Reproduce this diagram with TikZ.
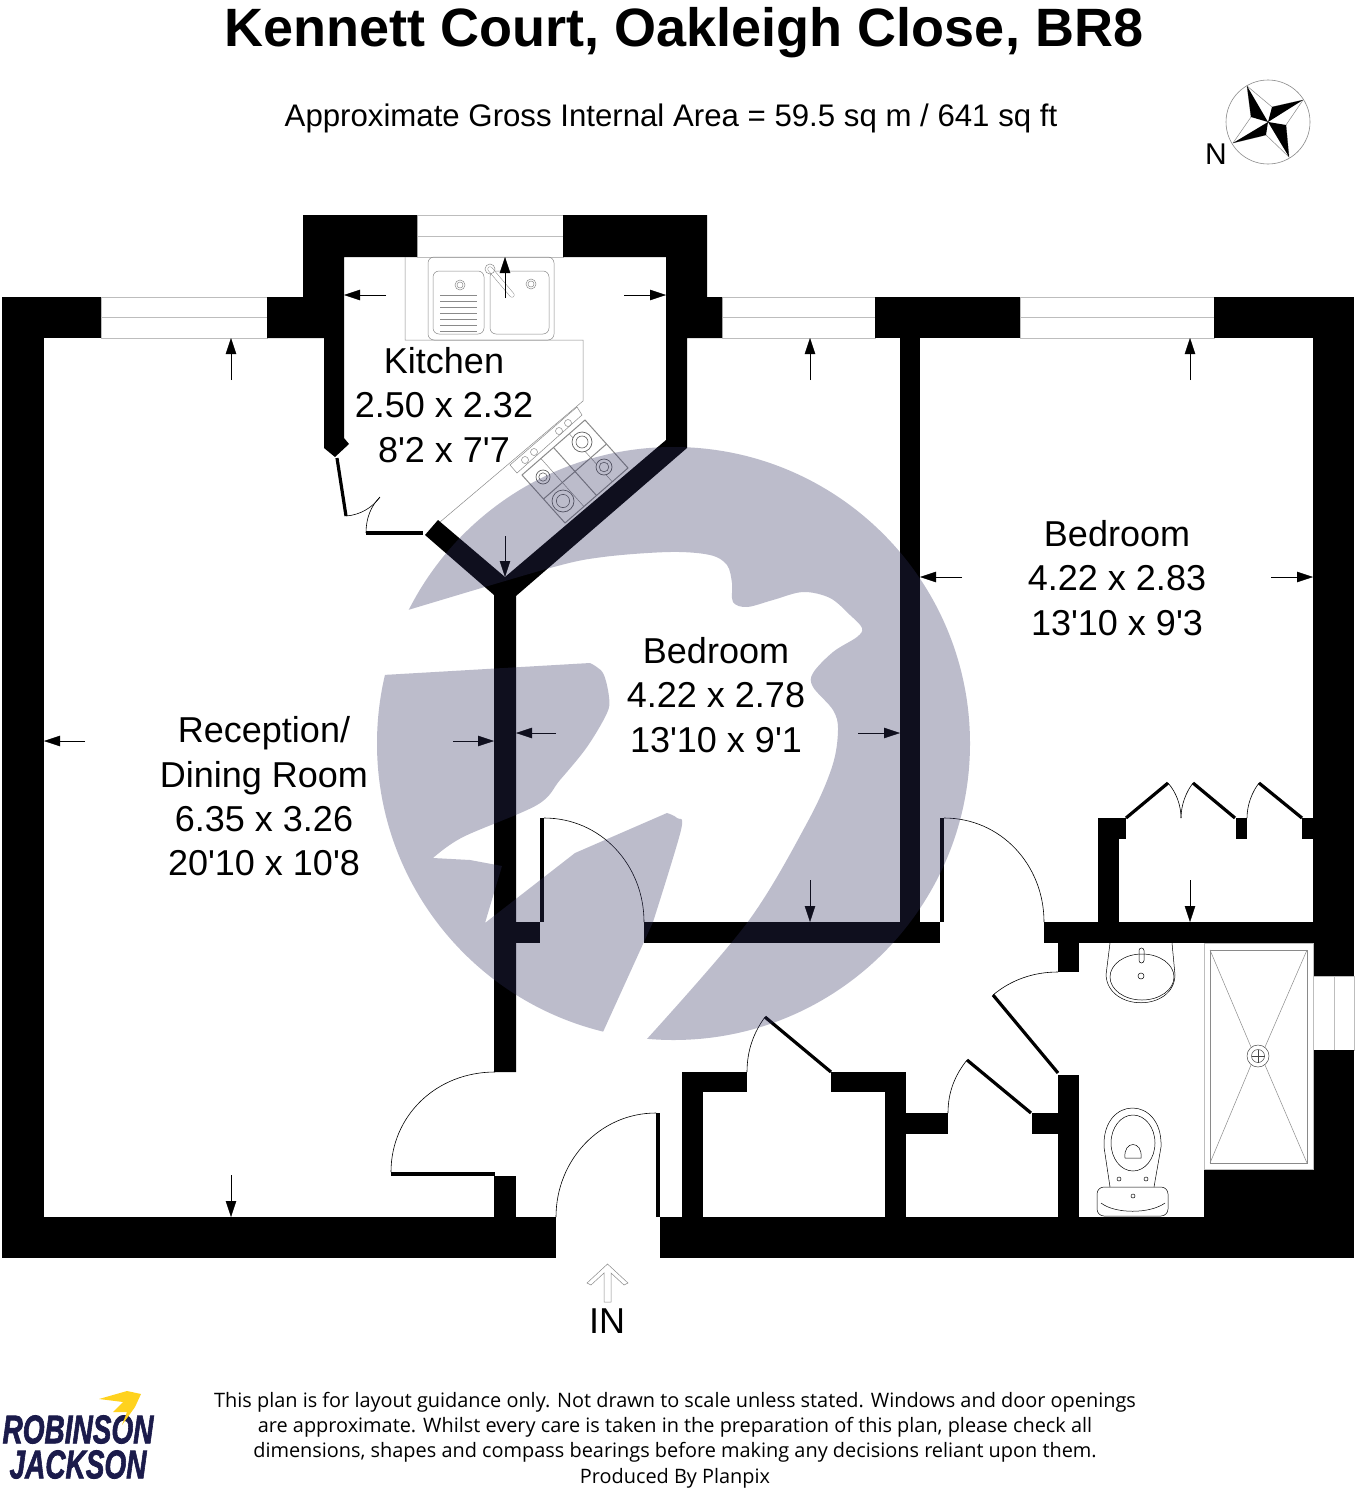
\documentclass[tikz,border=0pt]{standalone}
\usepackage{fontspec}
\usetikzlibrary{arrows.meta,calc}
\newfontfamily\planfont{Liberation Sans}
\newfontfamily\notefont{Open Sans}
\newfontfamily\logofont[FakeBold=2]{Liberation Sans Bold Italic}
\definecolor{fixgrey}{HTML}{8A8A8A}
\definecolor{framegrey}{HTML}{BDBDBD}
\definecolor{swallownavy}{HTML}{1B1B4B}
\definecolor{swallowyellow}{HTML}{FFD21E}
\definecolor{markcolor}{rgb}{.19,.19,.375}
\tikzset{
  roomlabel/.style={font=\planfont\fontsize{36}{44.4}\selectfont,align=center,inner sep=0pt},
  logolabel/.style={font=\logofont\fontsize{40}{35}\selectfont,text=swallownavy,xscale=.7,align=center,inner sep=0pt},
  dimline/.style={line width=.4pt,-{Triangle[length=16pt,width=10.5pt]}},
  swing/.style={line width=.6pt},
  leaf/.style={line width=3.2pt},
  frameline/.style={framegrey,line width=.9pt},
  fixture/.style={line width=.5pt},
  hobline/.style={fixgrey,line width=.7pt},
}
\begin{document}
\begin{tikzpicture}[x=1pt,y=-1pt]
      \useasboundingbox (0,0) rectangle (1361,1488);
      \fill[white] (0,0) rectangle (1361,1488);
      % Titles
      \node[font=\planfont\bfseries\fontsize{54}{58}\selectfont,inner sep=0pt] (title) at (684,33) {Kennett Court, Oakleigh Close, BR8};
      \node[font=\planfont\fontsize{31.2}{35}\selectfont,inner sep=0pt] (area) at (671,118) {Approximate Gross Internal Area = 59.5 sq m / 641 sq ft};
      % Compass
      \draw[fixgrey,line width=.6pt] (1268,122) circle (42);
      \draw[fixgrey,line width=.5pt] (1247,86) -- (1272,107) -- (1303,100) -- (1286,125) -- (1289,157) -- (1266,135) -- (1233,143) -- (1251,117) -- cycle;
      \fill (1247,86) -- (1251,117) -- (1268,122) -- cycle;
      \fill (1303,100) -- (1272,107) -- (1268,122) -- cycle;
      \fill (1289,157) -- (1286,125) -- (1268,122) -- cycle;
      \fill (1233,143) -- (1266,135) -- (1268,122) -- cycle;
      \node[font=\planfont\fontsize{30}{34}\selectfont,inner sep=0pt] (north) at (1216,154) {N};
      % Windows
      \foreach \xa/\xb in {101/267,722/875,1020/1214}{
        \draw[frameline] (\xa,297) rectangle (\xb,338);
        \draw[frameline] (\xa,317) -- (\xb,317);
      }
      \draw[frameline] (417,215) rectangle (563,257);
      \draw[frameline] (417,236) -- (563,236);
      \draw[frameline] (1313,976) rectangle (1354,1050);
      \draw[frameline] (1334,976) -- (1334,1050);
      % Walls
      \fill (303,215) -- (417,215) -- (417,257) -- (344,257) -- (344,438) -- (349,444) -- (335,457) -- (324,448) -- (324,338) -- (267,338) -- (267,297) -- (303,297) -- cycle;
      \fill (563,215) -- (707,215) -- (707,297) -- (722,297) -- (722,338) -- (687,338) -- (687,448) -- (516,596) -- (516,1072) -- (494,1072) -- (494,595) -- (425,535) -- (438,520) -- (505,577) -- (666,440) -- (666,257) -- (563,257) -- cycle;
      \foreach \xa/\ya/\xb/\yb in {2/297/44/1258,2/297/101/338,875/297/1020/338,900/338/920/943,1214/297/1354/338,
        1313/297/1354/976,1313/1050/1354/1258,2/1217/556/1258,660/1217/1354/1258,494/1176/516/1217,
        516/922/540/943,644/922/940/943,1044/922/1313/943,1058/943/1079/972,1058/1075/1079/1217,
        906/1113/948/1134,1032/1113/1058/1134,885/1072/906/1217,682/1072/703/1217,682/1072/747/1092,831/1072/906/1092,
        1204/1169/1313/1217,1098/818/1119/922,1098/818/1126/839,1236/818/1247/839,1302/818/1313/839,
        540/818/544/922,940/818/944/922,656/1113/660/1217,391/1172/495/1176}{
        \fill (\xa,\ya) rectangle (\xb,\yb);
      }
      % Door leaves
      \draw[leaf] (337,458) -- (346,516);
      \draw[leaf] (366,533) -- (423,533);
      \draw[leaf] (993,995) -- (1058,1073);
      \draw[leaf] (967,1060) -- (1031,1113);
      \draw[leaf] (765,1017) -- (831,1072);
      \draw[leaf] (1126,818) -- (1168,783);
      \draw[leaf] (1235,818) -- (1193,783);
      \draw[leaf] (1302,818) -- (1259,783);
      % Door swings
      \draw[swing] (544,818) .. controls (601,818) and (644,865) .. (644,922);
      \draw[swing] (944,818) .. controls (1001,818) and (1044,865) .. (1044,922);
      \draw[swing] (656,1113) .. controls (600,1113) and (556,1160) .. (556,1217);
      \draw[swing] (495,1072) .. controls (436,1072) and (391,1116) .. (391,1172);
      \draw[swing] (1058,972) .. controls (1033,972) and (1011,980) .. (993,995);
      \draw[swing] (948,1113) .. controls (948,1092) and (955,1075) .. (967,1060);
      \draw[swing] (747,1072) .. controls (747,1050) and (754,1032) .. (765,1017);
      \draw[swing] (1181,818) .. controls (1181,805) and (1176,792) .. (1168,783);
      \draw[swing] (1181,818) .. controls (1181,805) and (1186,792) .. (1193,783);
      \draw[swing] (1247,818) .. controls (1247,805) and (1252,792) .. (1259,783);
      \draw[swing] (346,516) .. controls (360,515) and (372,508) .. (380,497);
      \draw[swing] (366,533) .. controls (366,518) and (371,506) .. (380,497);
      % Kitchen units
      \draw[fixgrey,line width=.5pt] (405,257) -- (405,340) -- (583,340) -- (583,401) -- (440,522);
      \draw[fixgrey,fixture,rounded corners=6pt] (428,257) rectangle (554,340);
      \draw[fixgrey,fixture,rounded corners=6pt] (433,271) rectangle (484,334);
      \draw[fixgrey,fixture,rounded corners=6pt] (490,271) rectangle (549,334);
      \foreach \y in {295,301,307,313,319,325,331}{
        \draw[fixgrey,line width=.4pt] (440,\y) -- (477,\y);
      }
      \foreach \x/\y in {460/285,531/284}{
        \draw[fixgrey,fixture] (\x,\y) circle (5);
        \draw[fixgrey,fixture] (\x,\y) circle (3);
      }
      \draw[fixgrey,line width=5pt,line cap=round] (490,269) -- (512,295);
      \draw[white,line width=4pt,line cap=round] (490,269) -- (512,295);
      \draw[fixgrey,fixture] (490,269) circle (5);
      % Hob
      \coordinate (hoba) at (522,475);
      \coordinate (hobb) at (585,420);
      \coordinate (hobc) at (628,468);
      \coordinate (hobd) at (565,523);
      \draw[hobline,line width=1pt] (hoba) -- (hobb) -- (hobc) -- (hobd) -- cycle;
      \draw[hobline,line width=1pt] ($(hoba)!.5!(hobb)$) -- ($(hobd)!.5!(hobc)$);
      \draw[hobline,line width=1pt] ($(hoba)!.5!(hobd)$) -- ($(hobb)!.5!(hobc)$);
      \draw[hobline,line width=.5pt] ($(hoba)!.3!(hobb)$) -- ($(hobd)!.3!(hobc)$);
      \draw[hobline,line width=.5pt] ($(hoba)!.75!(hobb)$) -- ($(hobd)!.75!(hobc)$);
      \draw[fixgrey,line width=.5pt] (510,465) -- (577,407) -- (582,415) -- (517,473) -- cycle;
      \foreach \x/\y in {525/460,534/452,559/431,568/423}{
        \draw[fixgrey,line width=.5pt] (\x,\y) circle (3.5);
      }
      \foreach \x/\y/\r in {543/477/7,582/442/10,604/467/8,563/501/11}{
        \draw[draw=fixgrey!70!black,fill=white,line width=.7pt] (\x,\y) circle (\r);
        \draw[fixgrey!70!black,line width=.6pt] (\x,\y) circle (\r*.6);
      }
      % Shower
      \draw[frameline,line width=.7pt] (1204,943) rectangle (1313,1169);
      \draw[fixgrey,line width=1pt] (1210,950) rectangle (1307,1163);
      \draw[fixgrey,line width=.5pt] (1210,950) -- (1251,1047) (1307,950) -- (1265,1047) (1210,1163) -- (1251,1065) (1307,1163) -- (1265,1065);
      \draw[fixgrey!50!black,fixture] (1258,1056) circle (11);
      \draw[fixgrey!50!black,fixture] (1258,1056) circle (6.5);
      \draw[fixgrey!50!black,fixture] (1251.5,1056) -- (1264.5,1056) (1258,1049.5) -- (1258,1062.5);
      % Washbasin
      \draw[fixture] (1110,943) -- (1106,975) .. controls (1108,1012) and (1174,1012) .. (1175,975) -- (1172,943);
      \draw[fixture] (1142,977) ellipse (32 and 23);
      \draw[fixture,rounded corners=2.5pt] (1139,948) rectangle (1144,963);
      \draw[fixture] (1141,976) circle (3);
      % Toilet
      \draw[fixture] (1110,1187) -- (1104,1147) .. controls (1102,1095) and (1163,1095) .. (1161,1147) -- (1154,1187);
      \draw[fixture] (1133,1143) ellipse (22 and 28);
      \draw[fixture,rounded corners=7pt] (1097,1187) rectangle (1168,1216);
      \draw[fixture] (1125,1158) .. controls (1123,1140) and (1143,1140) .. (1141,1158) -- cycle;
      \foreach \x/\y in {1119/1179,1146/1179,1133/1196}{
        \draw[fixture] (\x,\y) circle (2);
      }
      \draw[fixture] (1101,1203) .. controls (1115,1214) and (1150,1214) .. (1165,1203);
      % Dimension arrows
      \foreach \xa/\ya/\xb/\yb in {85/741/44/741,231/380/231/338,231/1175/231/1217,453/741/494/741,
        556/733/516/733,858/733/900/733,810/380/810/338,810/880/810/922,
        962/577/920/577,1271/577/1313/577,1190/380/1190/338,1190/880/1190/922,
        386/295/344/295,624/295/666/295,505/298/505/257,505/536/505/577}{
        \draw[dimline] (\xa,\ya) -- (\xb,\yb);
      }
      % Room labels
      \node[roomlabel] (kitchen) at (444,405) {Kitchen\\2.50 x 2.32\\8'2 x 7'7};
      \node[roomlabel] (bedroommid) at (716,695) {Bedroom\\4.22 x 2.78\\13'10 x 9'1};
      \node[roomlabel] (bedroomright) at (1117,578) {Bedroom\\4.22 x 2.83\\13'10 x 9'3};
      \node[roomlabel] (reception) at (264,796.5) {Reception/\\Dining Room\\6.35 x 3.26\\20'10 x 10'8};
      % Way in
      \draw[fixgrey,line width=.5pt] (607.5,1264) -- (628,1283) -- (624,1285) -- (611,1273) -- (611,1302) -- (604,1302) -- (604,1273) -- (591,1285) -- (587,1283) -- cycle;
      \node[font=\planfont\fontsize{36}{40}\selectfont,inner sep=0pt] (way) at (607,1321) {IN};
      % Small print
      \node[font=\notefont\fontsize{19.9}{25.3}\selectfont,align=center,inner sep=0pt] (note) at (675,1440) {This plan is for layout guidance only. Not drawn to scale unless stated. Windows and door openings\\are approximate. Whilst every care is taken in the preparation of this plan, please check all\\dimensions, shapes and compass bearings before making any decisions reliant upon them.\\Produced By Planpix};
      % Logo
      \node[logolabel] (logoname) at (78,1447) {ROBINSON\\JACKSON};
      \fill[swallowyellow] (99,1399) -- (127,1391) -- (141,1394) -- (135,1407) -- (122,1425) -- (127,1412) -- (113,1412) -- (123,1402) -- cycle;
      % Watermark
      \begin{scope}
        \clip (673.5,743.5) circle (296.5);
        \fill[markcolor,opacity=.32,even odd rule] (350,420) rectangle (1000,1070)
          (340,622) -- plot[smooth,tension=.55] coordinates {(408,610) (550,568) (603,557) (670,552) (710,555) (727,565) (732,583) (733,602) (747,607) (773,600) (803,592) (830,598) (850,615) (862,628) (857,637) (833,652) (813,673) (813,687) (833,710) (838,730) (832,767) (807,823) (747,923) (646,1040)}
          -- (640,1065) -- (600,1065) -- (603,1032) -- plot[smooth,tension=.55] coordinates {(653,922) (681,830) (677,818) (667,813)}
          -- (575,853) -- (485,923) -- (502,866) -- (470,860) -- plot[smooth,tension=.55] coordinates {(433,858) (463,837) (537,805) (560,780) (587,747) (607,713) (609,697) (603,673) (590,663)}
          -- (383,675) -- (340,680) -- cycle;
      \end{scope}
   \end{tikzpicture}
\end{document}
